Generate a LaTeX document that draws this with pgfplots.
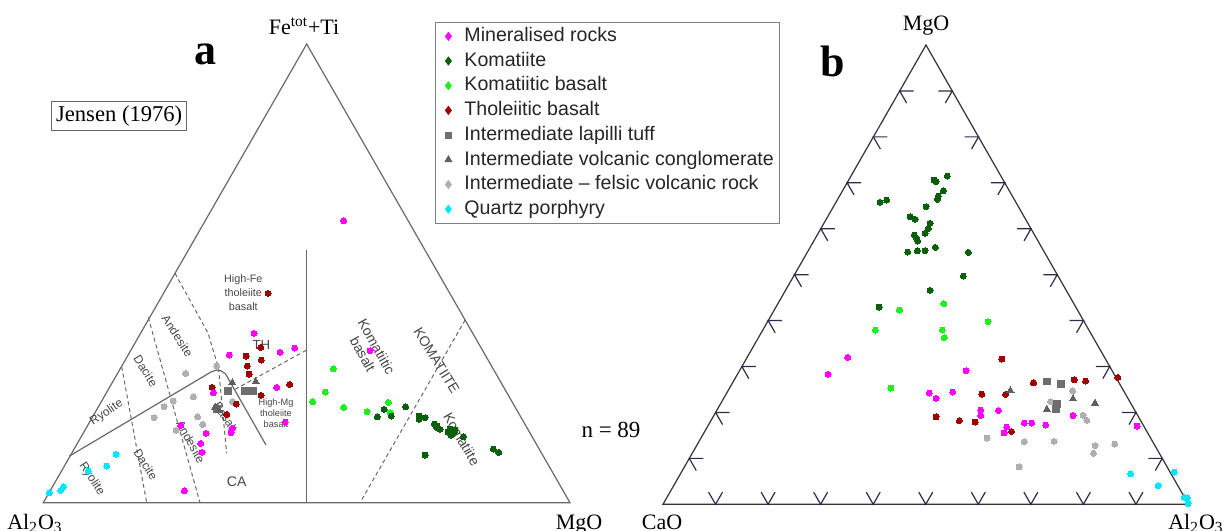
\documentclass[border=0pt]{standalone}
\usepackage{fontspec}
\setmainfont{Liberation Serif}
\newfontfamily\arial{Liberation Sans}
\usepackage{pgfplots}
\pgfplotsset{compat=1.18}
\definecolor{cmag}{RGB}{255,0,255}
\definecolor{cdkg}{RGB}{10,95,10}
\definecolor{cltg}{RGB}{30,240,30}
\definecolor{cdkr}{RGB}{160,0,0}
\definecolor{csq}{RGB}{110,110,110}
\definecolor{ctri}{RGB}{95,95,95}
\definecolor{cltgr}{RGB}{175,175,175}
\definecolor{ccy}{RGB}{0,230,255}
\definecolor{clab}{RGB}{70,70,70}
\definecolor{cline}{RGB}{105,105,105}
\definecolor{ctick}{RGB}{50,40,80}
\newcommand\lab[2]{\arial\fontsize{#1}{#2}\selectfont}
\pgfplotsset{
  pt/.style={only marks, mark=*, mark size=1.5pt, mark options={draw=#1, fill=#1, line width=0pt}},
  psq/.style={only marks, mark=square*, mark size=1.7pt, mark options={draw=#1, fill=#1, line width=0pt}},
  ptri/.style={only marks, mark=triangle*, mark size=2.1pt, mark options={draw=#1, fill=#1, line width=0pt}},
}
\begin{document}
\begin{tikzpicture}
\begin{axis}[
  width=611.5pt, height=265.5pt, scale only axis,
  xmin=0, xmax=1223, ymin=0, ymax=531, y dir=reverse,
  hide axis, clip=false,
  legend style={at={(axis cs:435,21.7)}, anchor=north west, draw=gray, fill=white,
    font=\lab{9.8}{11}, text=black!85, inner xsep=1pt, inner ysep=1pt, row sep=0.15pt,
    cells={anchor=west}, nodes={text height=7.2pt, text depth=2pt, inner ysep=1.5pt},
    /tikz/every odd column/.append style={column sep=4.3pt}},
  legend image code/.code={\path[draw=none, fill=none] (0pt,0pt) -- (1pt,0pt); \draw[#1] plot coordinates {(5.5pt,0pt)};},
]
% legend
\addlegendimage{only marks, mark=diamond*, mark size=2pt, mark options={draw=cmag, fill=cmag}}
\addlegendentry{Mineralised rocks}
\addlegendimage{only marks, mark=diamond*, mark size=2pt, mark options={draw=cdkg, fill=cdkg}}
\addlegendentry{Komatiite}
\addlegendimage{only marks, mark=diamond*, mark size=2pt, mark options={draw=cltg, fill=cltg}}
\addlegendentry{Komatiitic basalt}
\addlegendimage{only marks, mark=diamond*, mark size=2pt, mark options={draw=cdkr, fill=cdkr}}
\addlegendentry{Tholeiitic basalt}
\addlegendimage{only marks, mark=square*, mark size=1.6pt, mark options={draw=csq, fill=csq}}
\addlegendentry{Intermediate lapilli tuff}
\addlegendimage{only marks, mark=triangle*, mark size=2pt, mark options={draw=ctri, fill=ctri}}
\addlegendentry{Intermediate volcanic conglomerate}
\addlegendimage{only marks, mark=diamond*, mark size=2pt, mark options={draw=cltgr, fill=cltgr}}
\addlegendentry{Intermediate – felsic volcanic rock}
\addlegendimage{only marks, mark=diamond*, mark size=2pt, mark options={draw=ccy, fill=ccy}}
\addlegendentry{Quartz porphyry}

% ---------- triangle a frame and field boundaries ----------
\draw[cline, line width=0.6pt] (axis cs:43.3,502.7) -- (axis cs:570,502.7) -- (axis cs:306.7,44) -- cycle;
\draw[cline, line width=0.6pt] (axis cs:306.7,250) -- (axis cs:306.7,502.7);
\draw[cline, line width=0.6pt] (axis cs:69.3,456.1) -- (axis cs:211,372) -- (axis cs:216,370.2) -- (axis cs:221,370.8) -- (axis cs:225.5,373.8) -- (axis cs:266,445);
\begin{scope}[dash pattern=on 2pt off 1.5pt, cline, line width=0.5pt]
\draw (axis cs:235.2,389.3) -- (axis cs:306.7,350);
\draw (axis cs:465.1,320) -- (axis cs:360,502.7);
\draw (axis cs:121.7,366.8) -- (axis cs:146.7,502.7);
\draw (axis cs:148.3,317.5) -- (axis cs:200,502.7);
\draw (axis cs:175,273.3) -- (axis cs:208,333) -- (axis cs:218.5,368) -- (axis cs:226.7,453.3);
\end{scope}

% ---------- field labels a ----------
\begin{scope}[clab]
\node[font=\lab{5.4}{7}, align=center] at (axis cs:243.3,293) {High-Fe\\tholeiite\\basalt};
\node[font=\lab{6.6}{7}] at (axis cs:261.3,345.3) {TH};
\node[font=\lab{4.6}{5.6}, align=center] at (axis cs:276,413) {High-Mg\\tholeiite\\basalt};
\node[font=\lab{7}{8}] at (axis cs:236.7,481.7) {CA};
\node[font=\lab{6}{7}, rotate=-57] at (axis cs:177.5,335.8) {Andesite};
\node[font=\lab{6}{7}, rotate=-58] at (axis cs:145.8,371) {Dacite};
\node[font=\lab{6}{7}, rotate=34] at (axis cs:106.7,412.6) {Ryolite};
\node[font=\lab{6}{7}, rotate=-57] at (axis cs:225.7,417.3) {Basalt};
\node[font=\lab{6}{7}, rotate=-61.5] at (axis cs:190.7,441.7) {Andesite};
\node[font=\lab{6}{7}, rotate=-58] at (axis cs:145.8,464.5) {Dacite};
\node[font=\lab{6}{7}, rotate=-57] at (axis cs:91.7,478.9) {Ryolite};
\node[font=\lab{7}{7.9}, rotate=-60.6, align=center] at (axis cs:369.7,350.3) {Komatiitic\\basalt};
\node[font=\lab{7}{8}, rotate=-58.4] at (axis cs:436.7,360.7) {KOMATIITE};
\node[font=\lab{7}{8}, rotate=-60] at (axis cs:461.7,439) {Komatiite};
\end{scope}

% ---------- triangle b frame and ticks ----------
\draw[black!80, line width=0.6pt] (axis cs:663,504.3) -- (axis cs:1188.5,504.3) -- (axis cs:926,45) -- cycle;
\pgfplotsinvokeforeach{1,...,9}{
  \draw[ctick, line width=0.6pt] (axis cs:{663+52.55*#1-6.95},492.15) -- (axis cs:{663+52.55*#1},504.3) -- (axis cs:{663+52.55*#1+6.95},492.15);
  \draw[ctick, line width=0.6pt] (axis cs:{663+26.3*#1+14},{504.3-45.93*#1}) -- (axis cs:{663+26.3*#1},{504.3-45.93*#1}) -- (axis cs:{663+26.3*#1+6.95},{504.3-45.93*#1+12.15});
  \draw[ctick, line width=0.6pt] (axis cs:{1188.5-26.25*#1-14},{504.3-45.93*#1}) -- (axis cs:{1188.5-26.25*#1},{504.3-45.93*#1}) -- (axis cs:{1188.5-26.25*#1-6.95},{504.3-45.93*#1+12.15});
}

% ---------- data, diagram a ----------
\addplot[pt=cltgr, forget plot] coordinates {(216.7,366) (185.7,373.3) (193.3,396.7) (173.3,401) (164,406.7) (154,417.7) (197.7,416.7) (202.7,424.3) (176,430.3) (232.7,401.7)};
\addplot[pt=ccy, forget plot] coordinates {(49.3,492.7) (60.7,490.3) (63.3,486.7) (88.3,471) (106.7,466) (116,454.4)};
\addplot[pt=cltg, forget plot] coordinates {(333.3,368.7) (325.3,392) (312.7,401.7) (343.7,407.3) (367,411.7) (388.3,402.3) (390,412.7)};
\addplot[pt=cdkg, forget plot] coordinates {(377.3,416.7) (384,409.3) (391.3,416) (405.7,406.7) (419,416) (425,417.7) (419,419.3) (434.3,424) (436.7,427.3) (440,429.3) (450,429) (453.3,433.3) (448,432) (455,430) (463.3,436.7) (425,455) (493.3,449) (498.7,452.3) (437,426) (451,435)};
\addplot[pt=cdkr, forget plot] coordinates {(268,293.3) (260.7,347.3) (246,356) (261.3,360) (247.3,366) (249,374) (212,387.3) (289.7,384.3) (261,395.3) (236.3,404) (226.7,414.3)};
\addplot[pt=cmag, forget plot] coordinates {(343.7,220.7) (254,333.3) (229.3,355) (280,352.3) (294.7,348) (276.7,387.3) (213.3,392.7) (180.7,425.3) (206,433.3) (232.3,428.3) (231,432.7) (200.7,443.3) (202,452.3) (285.3,422) (184.3,490.7) (370,350.7)};
\addplot[psq=csq, forget plot] coordinates {(228.3,390.7) (245.3,391) (252.7,390.7) (217.3,409)};
\addplot[ptri=ctri, forget plot] coordinates {(232.3,382.7) (255.7,381.7) (215,407.3) (219.3,410.7)};

% ---------- data, diagram b ----------
\addplot[pt=cltgr, forget plot] coordinates {(1072.6,390.7) (1050.6,401.6) (1083,415.2) (1086.8,420.3) (987,438) (1024.2,441.7) (1054,441.4) (1095,445.8) (1093.5,453.3) (1114.7,444.1) (1019,466.9)};
\addplot[pt=ccy, forget plot] coordinates {(1130.7,473.7) (1158.2,485.6) (1174.3,472) (1184.3,497.5) (1187.3,497.8) (1188,503.5)};
\addplot[pt=cltg, forget plot] coordinates {(943.8,303.6) (899.5,310.1) (988.1,321.6) (875.3,330.1) (942.3,330.1) (944.2,337.6) (890.9,388)};
\addplot[pt=cdkg, forget plot] coordinates {(947.3,176) (934,180) (936,181.7) (943.3,190.7) (880,202.3) (886.7,200) (938.3,196) (937.3,199.3) (926,206.7) (910,216.7) (915,219.3) (930,223.3) (928.3,228.3) (925,233.3) (914.3,235) (916.7,238.3) (917.7,241) (907.7,252) (917.3,250.7) (925,250.7) (935.3,247.3) (968.3,252.3) (963.3,276) (930,290.3) (879,307)};
\addplot[pt=cdkr, forget plot] coordinates {(1001.9,359) (1033.5,382.9) (1074.1,379.8) (1085.6,381.1) (1117.7,377.4) (981.8,394.1) (1005.6,394.4) (936,416.9) (959.4,420.6) (975.1,422) (1011.6,431.5)};
\addplot[pt=cmag, forget plot] coordinates {(847.7,357.3) (828,374.3) (966.1,370.6) (929.3,393.1) (936,398.2) (952.7,392) (980.7,410) (980.7,415.5) (998.5,410.4) (1006.7,427.1) (1004.1,432.9) (1024.2,423) (1031.7,423) (1045.8,425) (1073,415.5) (1137,426)};
\addplot[psq=csq, forget plot] coordinates {(1046.6,381.5) (1060.7,383.9) (1057,404) (1055.9,409.1)};
\addplot[ptri=ctri, forget plot] coordinates {(1010.4,390.7) (1046.9,409.4) (1073,398.8) (1095,403.3)};

% ---------- titles and corner labels ----------
\node[anchor=base, font=\fontsize{11}{13}\selectfont] at (axis cs:304,34) {Fe\textsuperscript{tot}+Ti};
\node[anchor=base, font=\fontsize{11}{13}\selectfont] at (axis cs:35,529.5) {Al\textsubscript{2}O\textsubscript{3}};
\node[anchor=base, font=\fontsize{11}{13}\selectfont] at (axis cs:579,529.5) {MgO};
\node[anchor=base, font=\fontsize{11}{13}\selectfont] at (axis cs:926,30.8) {MgO};
\node[anchor=base, font=\fontsize{11}{13}\selectfont] at (axis cs:662,529.5) {CaO};
\node[anchor=base, font=\fontsize{11}{13}\selectfont] at (axis cs:1196,529.5) {Al\textsubscript{2}O\textsubscript{3}};
\node[anchor=base, font=\fontsize{22}{24}\selectfont\bfseries] at (axis cs:205.5,64.4) {a};
\node[anchor=base, font=\fontsize{22}{24}\selectfont\bfseries] at (axis cs:833,76.7) {b};
\node[font=\fontsize{11.5}{13}\selectfont] at (axis cs:611,430) {n = 89};
\node[draw=black!60, line width=0.6pt, fill=white, minimum width=67.5pt, minimum height=14.5pt, inner sep=0pt, font=\fontsize{11.3}{13}\selectfont] at (axis cs:119.2,116.2) {Jensen (1976)};
\end{axis}
\pgfresetboundingbox
\path[use as bounding box] (current axis.south west) rectangle (current axis.north east);
\end{tikzpicture}
\end{document}
